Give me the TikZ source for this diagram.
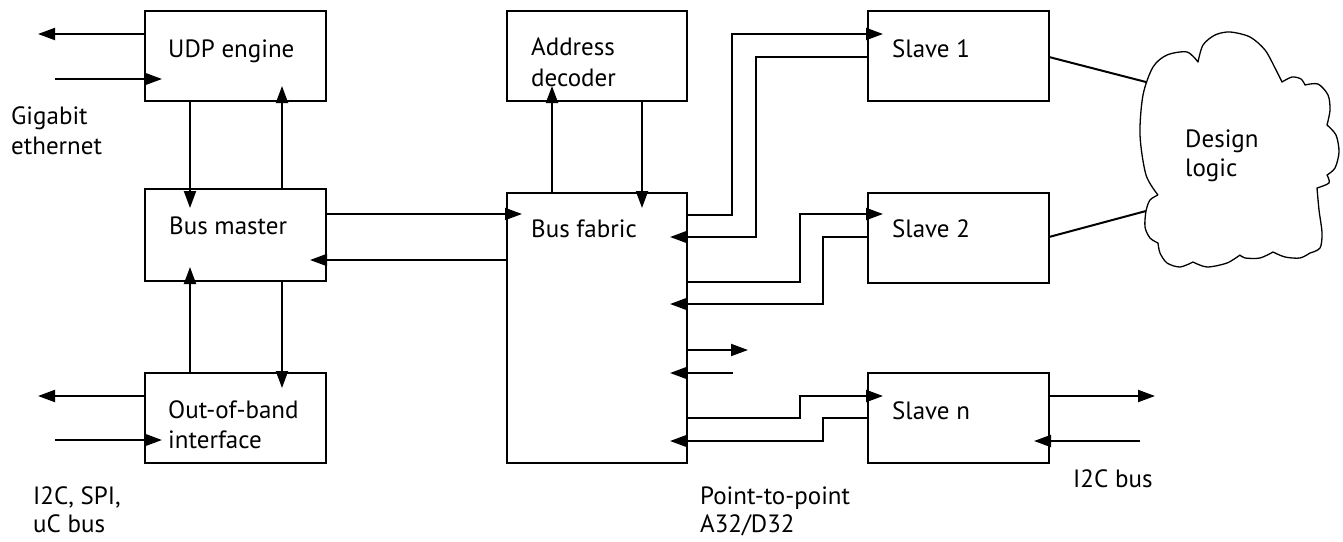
\documentclass[tikz,border=0pt]{standalone}
\usepackage{fontspec}
\setmainfont{PT Sans}
\usetikzlibrary{arrows.meta,calc}
\begin{document}
\begin{tikzpicture}[x=1pt,y=-1pt,
  box/.style={draw, line width=2pt, minimum width=181pt, minimum height=90pt, anchor=north west, inner sep=0pt, outer sep=0pt},
  txt/.style={anchor=base west, inner sep=0pt, font=\fontsize{25}{30}\selectfont},
  arr/.style={line width=2pt, -{Triangle[length=17pt,width=12pt]}},
  ln/.style={line width=2pt},
  cloudline/.style={line width=1.3pt, line join=round}]
\useasboundingbox (0,0) rectangle (1343,541);
% boxes
\node[box] (udp) at (145,11) {};
\node[box, minimum height=92pt] (bm) at (145,189) {};
\node[box] (oob) at (145,373) {};
\node[box, minimum width=180pt] (ad) at (507,11) {};
\node[box, minimum width=180pt, minimum height=270pt] (fab) at (507,193) {};
\node[box] (s1) at (868,11) {};
\node[box] (s2) at (868,193) {};
\node[box] (sn) at (868,373) {};
% texts
\node[txt] (tudp) at (168,57) {UDP engine};
\node[txt] (tbm) at (169,234) {Bus master};
\node[txt] (toob1) at (168,418) {Out-of-band};
\node[txt] (toob2) at (168,448) {interface};
\node[txt] (tad1) at (531,55) {Address};
\node[txt] (tad2) at (531,86) {decoder};
\node[txt] (tfab) at (531,237) {Bus fabric};
\node[txt] (ts1) at (892,57) {Slave 1};
\node[txt] (ts2) at (892,237) {Slave 2};
\node[txt] (tsn) at (892,419) {Slave n};
\node[txt] (tdl1) at (1185,147) {Design};
\node[txt] (tdl2) at (1185,176) {logic};
\node[txt] (tge1) at (11,124) {Gigabit};
\node[txt] (tge2) at (11,154) {ethernet};
\node[txt] (tsp1) at (33,504) {I2C, SPI,};
\node[txt] (tsp2) at (33,532) {uC bus};
\node[txt] (tpp1) at (700,504) {Point-to-point};
\node[txt] (tpp2) at (700,532) {A32/D32};
\node[txt] (ti2c) at (1073,487) {I2C bus};
% free ends
\coordinate (geout) at (38,34);
\coordinate (gein) at (55,79);
\coordinate (ooout) at (38,396);
\coordinate (ooin) at (55,440);
\coordinate (stubout) at (748,350);
\coordinate (stubin) at (733,373);
\coordinate (i2cout) at (1155,396);
\coordinate (i2cin) at (1140,441);
\coordinate (cl1) at (1146,82);
\coordinate (cl2) at (1146,211);
% cloud
\draw[cloudline]
  plot[smooth] coordinates {(1158,195) (1146,175) (1140,135) (1143,95) (1153,67) (1167,55) (1187,52) (1198,62)}
  -- plot[smooth] coordinates {(1198,62) (1203,45) (1215,35) (1230,32) (1250,37) (1265,50) (1275,68) (1282,82)}
  -- plot[smooth] coordinates {(1282,82) (1292,77) (1301,79) (1305,85)}
  -- plot[smooth] coordinates {(1305,85) (1318,84) (1328,95) (1330,110) (1327,125)}
  -- plot[smooth] coordinates {(1327,125) (1336,135) (1339,152) (1335,168) (1327,175)}
  -- plot[smooth] coordinates {(1327,175) (1329,183) (1317,188)}
  -- plot[smooth] coordinates {(1317,188) (1319,210) (1322,233) (1320,248) (1310,253)}
  -- plot[smooth] coordinates {(1310,253) (1300,258) (1285,257) (1273,252)}
  -- plot[smooth] coordinates {(1273,252) (1260,258) (1245,258) (1240,255)}
  -- plot[smooth] coordinates {(1240,255) (1227,263) (1207,267) (1193,262)}
  -- plot[smooth] coordinates {(1193,262) (1180,267) (1167,263) (1160,253) (1158,243)}
  -- plot[smooth] coordinates {(1158,243) (1150,238) (1145,227) (1146,211) (1150,200) (1158,195)};
% connectors left
\draw[arr] ($(udp.north west)+(0,23)$) -- (geout);
\draw[arr] (gein) -- ($(udp.north west)+(17,68)$);
\draw[arr] ($(udp.south west)+(45,0)$) -- ($(bm.north west)+(45,19)$);
\draw[arr] ($(bm.north west)+(137,0)$) -- ($(udp.south west)+(137,-15)$);
\draw[arr] ($(oob.north west)+(45,0)$) -- ($(bm.south west)+(45,-14)$);
\draw[arr] ($(bm.south west)+(137,0)$) -- ($(oob.north west)+(137,15)$);
\draw[arr] ($(oob.north west)+(0,23)$) -- (ooout);
\draw[arr] (ooin) -- ($(oob.north west)+(17,67)$);
% bus master <-> fabric
\draw[arr] ($(bm.north east)+(0,25)$) -- ($(fab.north west)+(15,21)$);
\draw[arr] ($(fab.north west)+(0,67)$) -- ($(bm.north east)+(-16,71)$);
% fabric <-> address decoder
\draw[arr] ($(fab.north west)+(45,0)$) -- ($(ad.south west)+(45,-15)$);
\draw[arr] ($(ad.south west)+(135,0)$) -- ($(fab.north west)+(135,15)$);
% fabric <-> slaves
\draw[arr] ($(fab.north east)+(0,22)$) -- ++(45,0) |- ($(s1.north west)+(15,23)$);
\draw[arr] ($(s1.north west)+(0,46)$) -- ++(-112,0) |- ($(fab.north east)+(-17,44)$);
\draw[arr] ($(fab.north east)+(0,89)$) -- ++(113,0) |- ($(s2.north west)+(15,21)$);
\draw[arr] ($(s2.north west)+(0,44)$) -- ++(-45,0) |- ($(fab.north east)+(-17,111)$);
\draw[arr] ($(fab.north east)+(0,157)$) -- (stubout);
\draw[arr] (stubin) -- ($(fab.north east)+(-17,180)$);
\draw[arr] ($(fab.north east)+(0,225)$) -- ++(113,0) |- ($(sn.north west)+(15,23)$);
\draw[arr] ($(sn.north west)+(0,45)$) -- ++(-45,0) |- ($(fab.north east)+(-17,248)$);
% slave n i2c
\draw[arr] ($(sn.north east)+(0,23)$) -- (i2cout);
\draw[arr] (i2cin) -- ($(sn.north east)+(-15,68)$);
% slaves to cloud
\draw[ln] ($(s1.north east)+(0,46)$) -- (cl1);
\draw[ln] ($(s2.north east)+(0,44)$) -- (cl2);
\end{tikzpicture}
\end{document}
